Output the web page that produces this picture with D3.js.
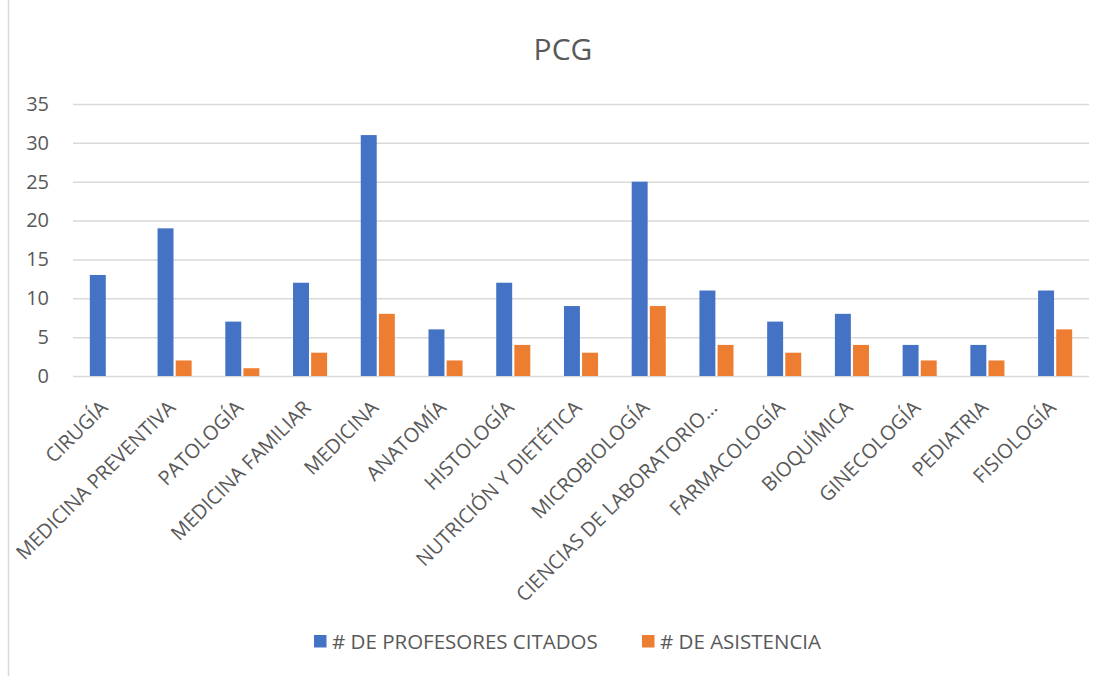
<!DOCTYPE html>
<html>
<head>
<meta charset="utf-8">
<script src="https://cdn.jsdelivr.net/npm/d3@7"></script>
<style>
  body { margin: 0; background: #fff; }
  text { font-family: "Open Sans", "Noto Sans", sans-serif; fill: #595959; }
</style>
</head>
<body>
<script>
var categories = ['CIRUGÍA', 'MEDICINA PREVENTIVA', 'PATOLOGÍA', 'MEDICINA FAMILIAR',
  'MEDICINA', 'ANATOMÍA', 'HISTOLOGÍA', 'NUTRICIÓN Y DIETÉTICA', 'MICROBIOLOGÍA',
  'CIENCIAS DE LABORATORIO…', 'FARMACOLOGÍA', 'BIOQUÍMICA', 'GINECOLOGÍA',
  'PEDIATRIA', 'FISIOLOGÍA'];
var profesores = [13, 19, 7, 12, 31, 6, 12, 9, 25, 11, 7, 8, 4, 4, 11];
var asistencia = [0, 2, 1, 3, 8, 2, 4, 3, 9, 4, 3, 4, 2, 2, 6];
var seriesNames = ['# DE PROFESORES CITADOS', '# DE ASISTENCIA'];
var yTicks = [0, 5, 10, 15, 20, 25, 30, 35];

var width = 1106;
var height = 676;
var margin = { left: 73, right: 17, top: 104, bottom: 300 };
var colors = ['#4472C4', '#ED7D31'];

var data = categories.map(function(c, i) {
  return { cat: c, values: [profesores[i], asistencia[i]] };
});

var svg = d3.select('body')
  .append('svg')
  .attr('width', width)
  .attr('height', height);

// chart border
svg.append('rect')
  .attr('x', 8.5).attr('y', -2)
  .attr('width', width + 10).attr('height', height + 10)
  .attr('fill', 'none')
  .attr('stroke', '#d9d9d9')
  .attr('stroke-width', 1.5);

var xScale = d3.scaleBand()
  .domain(categories)
  .range([margin.left, width - margin.right])
  .paddingInner(0.497)
  .paddingOuter(0.2485);

var xInner = d3.scaleBand()
  .domain([0, 1])
  .range([0, xScale.bandwidth()])
  .paddingInner(0.12);

var yScale = d3.scaleLinear()
  .domain([0, 35])
  .range([height - margin.bottom, margin.top]);

// gridlines
var yAxis = d3.axisLeft(yScale)
  .tickValues(yTicks)
  .tickSize(-(width - margin.left - margin.right))
  .tickPadding(24);

var gy = svg.append('g')
  .attr('transform', 'translate(' + margin.left + ',0)')
  .call(yAxis);
gy.select('.domain').remove();
gy.selectAll('.tick line').attr('stroke', '#d9d9d9').attr('stroke-width', 1.5);
gy.selectAll('.tick text').attr('font-size', 20).style('fill', '#595959');

// bars
var groups = svg.append('g').selectAll('g')
  .data(data)
  .join('g')
  .attr('transform', function(d) { return 'translate(' + xScale(d.cat) + ',0)'; });

groups.selectAll('rect')
  .data(function(d) { return d.values.map(function(v, j) { return { v: v, j: j }; }); })
  .join('rect')
  .attr('x', function(d) { return xInner(d.j); })
  .attr('width', xInner.bandwidth())
  .attr('y', function(d) { return yScale(d.v); })
  .attr('height', function(d) { return yScale(0) - yScale(d.v); })
  .attr('fill', function(d) { return colors[d.j]; });

// x labels
var xAxis = d3.axisBottom(xScale).tickSize(0).tickPadding(0);
var gx = svg.append('g')
  .attr('transform', 'translate(0,' + (height - margin.bottom) + ')')
  .call(xAxis);
gx.select('.domain').remove();
gx.selectAll('.tick text')
  .attr('font-size', 20)
  .style('fill', '#595959')
  .attr('text-anchor', 'end')
  .attr('dy', 0)
  .attr('y', 0)
  .attr('transform', 'translate(2,33) rotate(-45)');

// title
svg.append('text')
  .attr('x', 563)
  .attr('y', 60)
  .attr('text-anchor', 'middle')
  .attr('font-size', 30)
  .text('PCG');

// legend
var legendX = [314, 642];
var legend = svg.append('g').selectAll('g')
  .data(seriesNames)
  .join('g')
  .attr('transform', function(d, i) { return 'translate(' + legendX[i] + ',635)'; });
legend.append('rect')
  .attr('width', 12.5).attr('height', 12.5)
  .attr('fill', function(d, i) { return colors[i]; });
legend.append('text')
  .attr('x', 18)
  .attr('y', 13.5)
  .attr('font-size', 20.5)
  .text(function(d) { return d; });
</script>
</body>
</html>
